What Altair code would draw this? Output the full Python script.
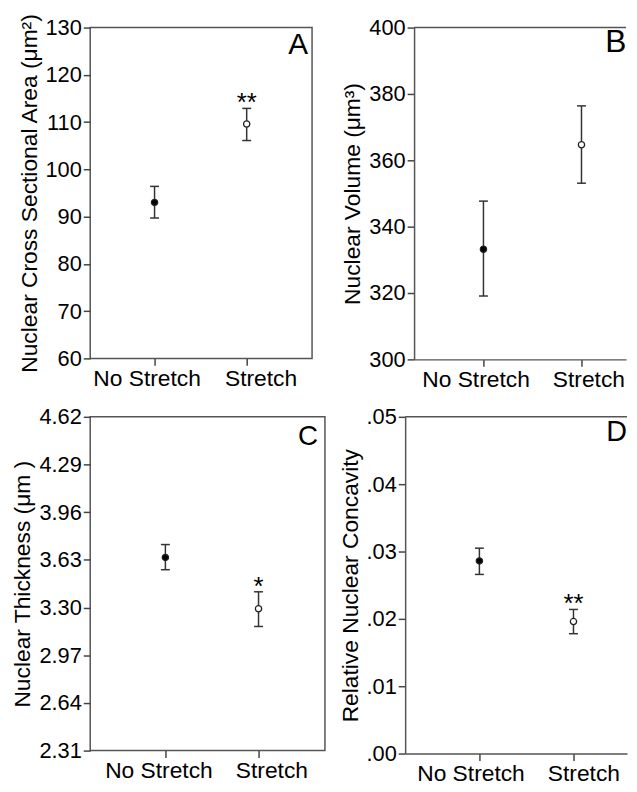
import altair as alt
import pandas as pd

FONT = "Liberation Sans"
conds = ["No Stretch", "Stretch"]

# Panel A: Nuclear cross sectional area
a_mean = [93.0, 109.6]
a_low = [89.7, 106.1]
a_up = [96.4, 112.9]
a_star = ["", "**"]
a_ticks = [60, 70, 80, 90, 100, 110, 120, 130]

# Panel B: Nuclear volume
b_mean = [333.2, 364.7]
b_low = [319.1, 353.1]
b_up = [347.7, 376.4]
b_star = ["", ""]
b_ticks = [300, 320, 340, 360, 380, 400]

# Panel C: Nuclear thickness
c_mean = [3.647, 3.292]
c_low = [3.562, 3.169]
c_up = [3.736, 3.409]
c_star = ["", "*"]
c_ticks = [2.31, 2.64, 2.97, 3.30, 3.63, 3.96, 4.29, 4.62]

# Panel D: Relative nuclear concavity
d_mean = [0.0286, 0.0196]
d_low = [0.0266, 0.0178]
d_up = [0.0305, 0.0214]
d_star = ["", "**"]
d_ticks = [0.0, 0.01, 0.02, 0.03, 0.04, 0.05]

LINE = "#333333"
FRAME = "#555555"


def panel(mean, low, up, star, domain, ticks, title, letter, w, h, pad, align,
          let_x, let_y, let_align, let_size, off_no, off_st,
          open_right=False, fmt=None, label_expr=None):
    df = pd.DataFrame({"cond": conds, "mean": mean, "low": low, "up": up, "star": star})
    x = alt.X("cond:N", sort=conds,
              scale=alt.Scale(type="point", padding=pad, align=align),
              axis=alt.Axis(title=None, labelAngle=0, labelPadding=2, tickSize=7,
                            labelFontSize=23,
                            labelOffset={"condition": {"test": "datum.value == 'Stretch'",
                                                       "value": off_st},
                                         "value": off_no},
                            domain=open_right, domainColor=FRAME, domainWidth=1.5))
    yscale = alt.Scale(domain=domain, nice=False, zero=False)
    ax = dict(title=title, values=ticks, tickSize=7, labelPadding=2, titlePadding=4,
              domain=open_right, domainColor=FRAME, domainWidth=1.5)
    if fmt:
        ax["format"] = fmt
    if label_expr:
        ax["labelExpr"] = label_expr
    base = alt.Chart(df).encode(x=x)
    rule = base.mark_rule(color=LINE, strokeWidth=1.5).encode(
        y=alt.Y("low:Q", scale=yscale, axis=alt.Axis(**ax)), y2="up:Q")
    cap_lo = base.mark_tick(color=LINE, size=9, thickness=1.5, opacity=1).encode(y="low:Q")
    cap_hi = base.mark_tick(color=LINE, size=9, thickness=1.5, opacity=1).encode(y="up:Q")
    pts = base.mark_point(shape="circle", size=40, strokeWidth=1.3, opacity=1, filled=True).encode(
        y="mean:Q",
        fill=alt.Fill("cond:N", scale=alt.Scale(domain=conds, range=["black", "white"]), legend=None),
        stroke=alt.value("#222222"))
    stars = base.mark_text(fontSize=26, baseline="alphabetic", dy=3, font=FONT, color="black").encode(
        y="up:Q", text="star:N")
    let = alt.Chart(pd.DataFrame({"t": [letter]})).mark_text(
        fontSize=let_size, align=let_align, baseline="alphabetic", font=FONT, color="black",
        clip=True).encode(x=alt.value(let_x), y=alt.value(let_y), text="t:N")
    layers = [rule, cap_lo, cap_hi, pts, stars, let]
    if open_right:
        top = alt.Chart(pd.DataFrame({"v": [domain[1]]})).mark_rule(
            color=FRAME, strokeWidth=1.5).encode(
            y=alt.Y("v:Q"), x=alt.value(0), x2=alt.value(w))
        layers.append(top)
        return alt.layer(*layers).properties(
            width=w, height=h, view=alt.ViewBackground(stroke="transparent"))
    return alt.layer(*layers).properties(width=w, height=h)


A = panel(a_mean, a_low, a_up, a_star, [60, 130], a_ticks,
          "Nuclear Cross Sectional Area (μm²)", "A", 224, 334, 0.704, 0.496,
          220, 27, "right", 30, -8, 14)
B = panel(b_mean, b_low, b_up, b_star, [300, 400], b_ticks,
          "Nuclear Volume (μm³)", "B", 214, 335, 0.581, 0.609,
          193, 25, "left", 32, -8, 7, open_right=True)
C = panel(c_mean, c_low, c_up, c_star, [2.31, 4.62], c_ticks,
          "Nuclear Thickness (μm )", "C", 237, 337, 0.76, 0.531,
          230, 28, "right", 28, -7, 13, fmt=".2f")
D = panel(d_mean, d_low, d_up, d_star, [0.0, 0.05], d_ticks,
          "Relative Nuclear Concavity", "D", 224, 340, 0.679, 0.581,
          203, 24, "left", 29, -9, 10, open_right=True,
          label_expr="substring(format(datum.value, '.2f'), 1)")

chart = alt.vconcat(
    alt.hconcat(A, B, spacing=28),
    alt.hconcat(C, D, spacing=12),
    spacing=13,
).properties(
    padding={"left": 3, "top": 0, "right": 0, "bottom": 0}
).configure(
    font=FONT, background="white"
).configure_view(
    stroke=FRAME, strokeWidth=1.5
).configure_axis(
    labelFont=FONT, titleFont=FONT, labelFontSize=22, titleFontSize=23,
    titleFontWeight="normal", labelColor="black", titleColor="black",
    tickColor="#444444", tickWidth=1.5, grid=False
)

chart.save("out.html", embed_options={"renderer": "svg", "actions": False})
